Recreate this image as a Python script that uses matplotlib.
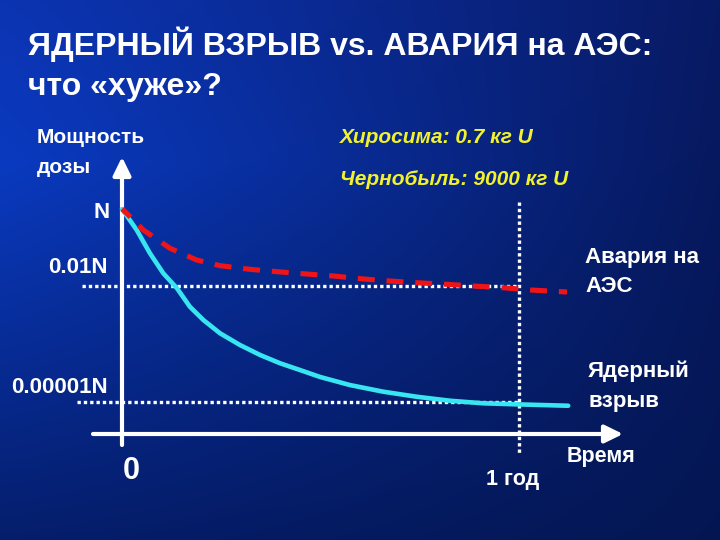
import numpy as np
import matplotlib
matplotlib.use("Agg")
import matplotlib.pyplot as plt

# ---------------- data ----------------
# time in years, dose power as fraction of N
accident_t = [0.0, 0.0118, 0.0537, 0.121, 0.188, 0.247, 0.322, 0.390, 0.465, 0.532,
              0.608, 0.675, 0.742, 0.818, 0.885, 0.960, 1.028, 1.121]
accident_p = [1.0, 0.774, 0.286, 0.096, 0.0477, 0.034, 0.0274, 0.0238, 0.0207, 0.0184,
              0.0154, 0.0136, 0.0123, 0.0112, 0.0101, 0.00914, 0.00798, 0.00708]

bomb_t = [0.0, 0.037, 0.0705, 0.104, 0.1385, 0.171, 0.205, 0.247, 0.297, 0.348,
          0.398, 0.448, 0.499, 0.574, 0.658, 0.742, 0.826, 0.910, 0.994, 1.124]
bomb_p = [1.0, 0.286, 0.0711, 0.0216, 0.00883, 0.00294, 0.00133, 0.000602, 0.0003,
          0.000165, 0.000101, 6.75e-5, 4.45e-5, 2.75e-5, 1.85e-5, 1.37e-5, 1.08e-5,
          9.25e-6, 8.7e-6, 8.0e-6]

ref_levels = [1e-2, 1e-5]
ref_labels = ["0.01N", "0.00001N"]
top_label = "N"
year_mark = 1.0
year_label = "1 год"
zero_label = "0"

title_lines = ["ЯДЕРНЫЙ ВЗРЫВ vs. АВАРИЯ на АЭС:", "что «хуже»?"]
y_axis_label = ["Мощность", "дозы"]
x_axis_label = "Время"
notes = ["Хиросима: 0.7 кг U", "Чернобыль: 9000 кг U"]
series_labels = [["Авария на", "АЭС"], ["Ядерный", "взрыв"]]

# ---------------- figure ----------------
W, H = 720, 540
fig = plt.figure(figsize=(7.2, 5.4), dpi=100)

# background gradient
bg = fig.add_axes([0, 0, 1, 1])
bg.set_axis_off()
yy, xx = np.mgrid[0:1:270j, 0:1:360j]
TL = np.array([12, 52, 178]) / 255
TR = np.array([8, 26, 100]) / 255
BL = np.array([5, 30, 108]) / 255
BR = np.array([4, 22, 82]) / 255
ML = np.array([10, 58, 192]) / 255
def lerp(a, b, t):
    return a[None, None, :] * (1 - t[..., None]) + b[None, None, :] * t[..., None]
t1 = np.clip(yy / 0.3, 0, 1)
t2 = np.clip((yy - 0.3) / 0.7, 0, 1)
left = np.where((yy < 0.3)[..., None], lerp(TL, ML, t1), lerp(ML, BL, t2))
right = lerp(TR, BR, yy)
hx = np.clip(xx ** 1.1, 0, 1)
img = left * (1 - hx[..., None]) + right * hx[..., None]
bg.imshow(img, extent=[0, 1, 0, 1], aspect="auto", origin="upper", interpolation="bilinear")
bg.set_xlim(0, 1)
bg.set_ylim(0, 1)

# main axes: x = years, y = log dose; mapped to pixel layout
ax = fig.add_axes([0, 0, 1, 1])
ax.set_facecolor("none")
ax.set_yscale("log")
px_per_year = 397.0
x0_px = 122.0
px_per_dec = 38.6
yN_px = 209.0
ax.set_xlim(-x0_px / px_per_year, (W - x0_px) / px_per_year)
ax.set_ylim(10 ** (-(H - yN_px) / px_per_dec), 10 ** (yN_px / px_per_dec))
ax.set_axis_off()

def ylog(py):
    return 10 ** (-(py - yN_px) / px_per_dec)

def xpx(px):
    return (px - x0_px) / px_per_year

white = "white"
dots = (0, (1.0, 0.9))
# reference dotted lines
ref_starts = [82, 77]
for lvl, xs in zip(ref_levels, ref_starts):
    ax.plot([xpx(xs), year_mark], [lvl, lvl], color=white, lw=2.4,
            linestyle=dots, dash_capstyle="butt", zorder=2)
ax.plot([year_mark, year_mark], [ylog(202), ylog(453)], color=white, lw=2.4,
        linestyle=dots, dash_capstyle="butt", zorder=2)

# axes arrows
astyle = "-|>,head_length=0.55,head_width=0.27"
ax.annotate("", xy=(0, ylog(157)), xytext=(0, ylog(445)),
            arrowprops=dict(arrowstyle=astyle, color=white, lw=3.0,
                            shrinkA=0, shrinkB=0, mutation_scale=20), zorder=3)
ax.annotate("", xy=(xpx(623), ylog(434)), xytext=(xpx(93), ylog(434)),
            arrowprops=dict(arrowstyle=astyle, color=white, lw=3.0,
                            shrinkA=0, shrinkB=0, mutation_scale=20), zorder=3)

# curves
ax.plot(bomb_t, bomb_p, color="#38e6f2", lw=3.3, solid_capstyle="round",
        solid_joinstyle="round", zorder=4)
ax.plot(accident_t, accident_p, color="#ee1418", lw=3.7,
        linestyle=(1.0, (3.3, 2.3)), dash_capstyle="butt", zorder=5)

# ---------------- text ----------------
FAM = ["Liberation Sans", "DejaVu Sans"]
def ftext(px, py, s, size=16, color=white, ha="left", style="normal", va="baseline"):
    fig.text(px / W, 1 - py / H, s, fontsize=size, color=color, ha=ha, va=va,
             fontweight="bold", fontstyle=style, family=FAM)

ftext(28, 55, title_lines[0], size=23)
ftext(28, 95, title_lines[1], size=23)
ftext(37, 143, y_axis_label[0], size=15)
ftext(37, 173, y_axis_label[1], size=15)
yellow = "#f2f22a"
ftext(340, 143, notes[0], size=15, color=yellow, style="italic")
ftext(340, 185, notes[1], size=15, color=yellow, style="italic")

ftext(110, 218, top_label, size=16, ha="right")
ftext(108, 273, ref_labels[0], size=16, ha="right")
ftext(108, 393, ref_labels[1], size=16, ha="right")

ftext(585, 263, series_labels[0][0], size=16)
ftext(585, 292, series_labels[0][1], size=16)
ftext(588, 377, series_labels[1][0], size=16)
ftext(588, 407, series_labels[1][1], size=16)

ftext(123, 479, zero_label, size=22)
ftext(486, 485, year_label, size=15.5)
ftext(567, 462, x_axis_label, size=15.5)

fig.savefig("out.png", dpi=100)
